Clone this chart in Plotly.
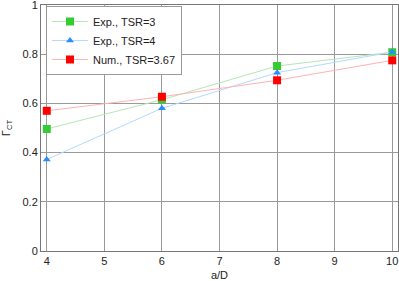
import plotly.graph_objects as go

x_vals = [4, 6, 8, 10]
exp_tsr3 = [0.496, 0.615, 0.752, 0.808]
exp_tsr4 = [0.372, 0.580, 0.725, 0.809]
num_tsr367 = [0.570, 0.627, 0.694, 0.775]

series = [
    ("Exp., TSR=3", exp_tsr3, "#b5e6b5", "#33cc33", "square", 8),
    ("Exp., TSR=4", exp_tsr4, "#b3d9ff", "#2b8cff", "triangle-up", 7),
    ("Num., TSR=3.67", num_tsr367, "#ffb3b3", "#ff0000", "square", 8),
]

fig = go.Figure()
for name, ys, lc, mc, sym, sz in series:
    fig.add_trace(go.Scatter(
        x=x_vals, y=ys, name=name, mode="lines+markers",
        line=dict(color=lc, width=1),
        marker=dict(color=mc, symbol=sym, size=sz, line=dict(width=0)),
    ))

axis_common = dict(
    showline=True, linecolor="#777777", linewidth=1, mirror=True,
    showgrid=True, gridcolor="#9a9a9a", gridwidth=1,
    zeroline=False, ticks="", tickfont=dict(size=11, color="#222222"),
    automargin=False, ticklabeloverflow="allow",
)

fig.update_layout(
    width=399, height=281,
    margin=dict(l=41, r=1, t=5, b=30),
    paper_bgcolor="white", plot_bgcolor="white",
    font=dict(family="Liberation Sans, Arial, sans-serif", size=11, color="#222222"),
    xaxis=dict(range=[3.9, 10.1], tickvals=[4, 5, 6, 7, 8, 9, 10],
               title=dict(text="a/D", font=dict(size=11), standoff=6), **axis_common),
    yaxis=dict(range=[0, 1], tickvals=[0, 0.2, 0.4, 0.6, 0.8, 1],
               ticktext=["0", "0.2", "0.4", "0.6", "0.8", "1"],
               title=dict(text="Γ<sub>CT</sub>", font=dict(size=11), standoff=9), **axis_common),
    legend=dict(x=0.014, y=0.996, xanchor="left", yanchor="top",
                bgcolor="white", bordercolor="#999999", borderwidth=1,
                font=dict(size=11), tracegroupgap=0, itemwidth=36),
    showlegend=True,
)

fig.write_html("out.html", config={"displayModeBar": False},
               post_script="document.body.style.margin='0';document.body.style.overflow='hidden';")
